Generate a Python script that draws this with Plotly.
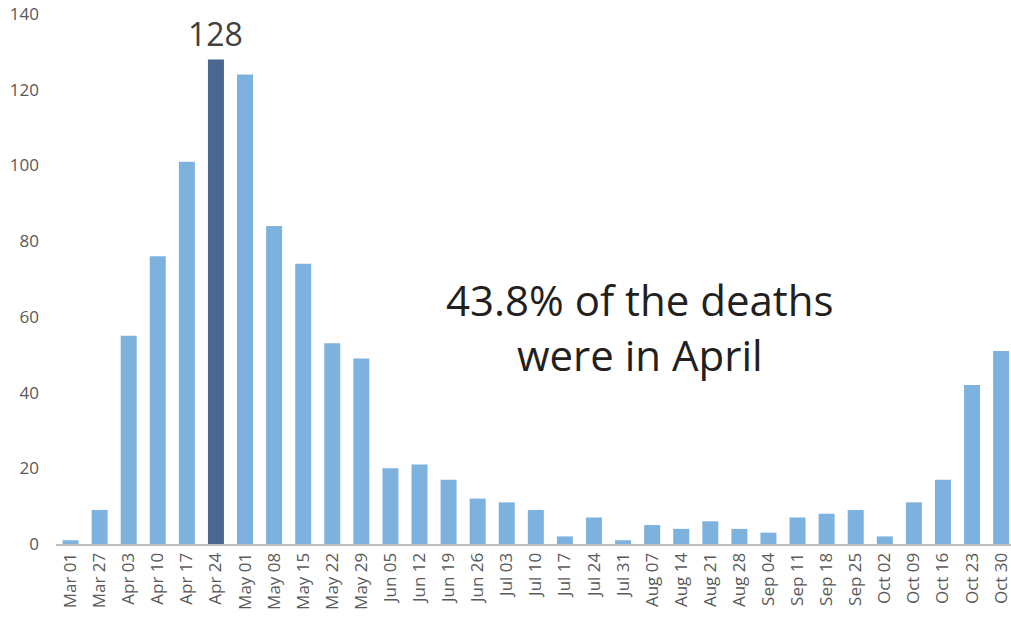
import plotly.graph_objects as go

weeks = ["Mar 01", "Mar 27", "Apr 03", "Apr 10", "Apr 17", "Apr 24", "May 01", "May 08",
         "May 15", "May 22", "May 29", "Jun 05", "Jun 12", "Jun 19", "Jun 26", "Jul 03",
         "Jul 10", "Jul 17", "Jul 24", "Jul 31", "Aug 07", "Aug 14", "Aug 21", "Aug 28",
         "Sep 04", "Sep 11", "Sep 18", "Sep 25", "Oct 02", "Oct 09", "Oct 16", "Oct 23", "Oct 30"]
deaths = [1, 9, 55, 76, 101, 128, 124, 84, 74, 53, 49, 20, 21, 17, 12, 11,
          9, 2, 7, 1, 5, 4, 6, 4, 3, 7, 8, 9, 2, 11, 17, 42, 51]
highlight = "Apr 24"
y_ticks = [0, 20, 40, 60, 80, 100, 120, 140]

LIGHT = "#7EB2DE"
DARK = "#4A6691"
colors = [DARK if w == highlight else LIGHT for w in weeks]
peak_val = deaths[weeks.index(highlight)]

fig = go.Figure(go.Bar(x=weeks, y=deaths, marker=dict(color=colors, line=dict(width=0)),
                       hoverinfo="x+y"))

fig.add_annotation(x=highlight, y=peak_val, text=str(peak_val), showarrow=False,
                   yanchor="bottom", yshift=2,
                   font=dict(family="Open Sans, Noto Sans, sans-serif", size=32, color="#404040"))

fig.add_annotation(xref="paper", yref="paper", x=0.612, y=0.409,
                   text="43.8% of the deaths<br>were in April", showarrow=False,
                   align="center", xanchor="center", yanchor="middle",
                   font=dict(family="Open Sans, Noto Sans, sans-serif", size=42, color="#231F20"))

fig.update_layout(
    width=1011, height=622,
    margin=dict(l=56, r=0, t=14, b=78),
    paper_bgcolor="white", plot_bgcolor="white",
    bargap=0.45,
    showlegend=False,
    xaxis=dict(range=[-0.5, 32.34], tickangle=-90, showgrid=False, showline=True,
               linecolor="#BFBFBF", linewidth=2, ticks="", automargin=False,
               ticklabeloverflow="allow",
               tickfont=dict(family="Open Sans, Noto Sans, sans-serif", size=17, color="#595959")),
    yaxis=dict(range=[0, 140], tickvals=y_ticks, showgrid=False, zeroline=False,
               showline=False, ticks="", ticklabelstandoff=16, automargin=False,
               ticklabeloverflow="allow",
               tickfont=dict(family="Open Sans, Noto Sans, sans-serif", size=17, color="#595959")),
)

fig.write_html("out.html", config={"displayModeBar": False},
               post_script="document.body.style.margin='0';document.body.style.overflow='hidden';")
